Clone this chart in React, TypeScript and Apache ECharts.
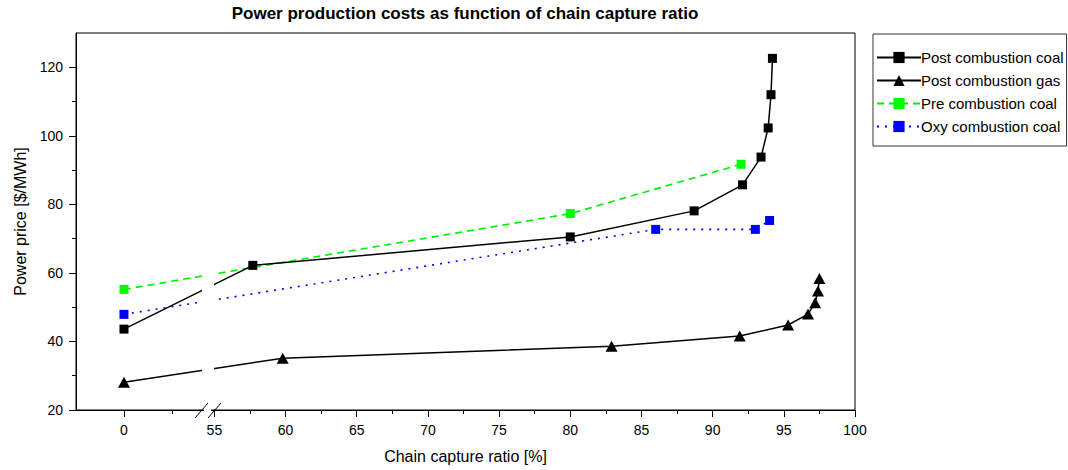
import React, { useEffect, useRef } from "react";
import * as echarts from "echarts";

// Data (x = chain capture ratio [%], y = power price [$/MWh])
const xCoal = [0, 57.7, 80, 88.7, 92.1, 93.4, 93.9, 94.1, 94.2];
const yCoal = [43.6, 62.2, 70.5, 78.1, 85.7, 93.8, 102.3, 112.0, 122.6];
const xGas = [0, 59.8, 82.9, 91.9, 95.3, 96.7, 97.2, 97.4, 97.5];
const yGas = [28.1, 35.1, 38.6, 41.6, 44.8, 48.0, 51.3, 54.7, 58.4];
const xPre = [0, 80, 92];
const yPre = [55.2, 77.3, 91.7];
const xOxy = [0, 86, 93, 94];
const yOxy = [47.9, 72.7, 72.7, 75.3];

const seriesNames = [
  "Post combustion coal",
  "Post combustion gas",
  "Pre combustion coal",
  "Oxy combustion coal",
];

const xTickLabels = [0, 55, 60, 65, 70, 75, 80, 85, 90, 95, 100];
const xMinorTicks = [52.05, 57.5, 62.5, 67.5, 72.5, 77.5, 82.5, 87.5, 92.5, 97.5];
const yTickLabels = [20, 40, 60, 80, 100, 120];
const yMinorTicks = [30, 50, 70, 90, 110];

// Broken axis: values below the break are drawn starting at ZERO_POS
const ZERO_POS = 48.65;
const BREAK_LIMIT = 50;
const mapX = (v: number) => (v < BREAK_LIMIT ? ZERO_POS + v : v);
const unmapX = (v: number) => (v < BREAK_LIMIT ? Math.round(v - ZERO_POS) : Math.round(v));

const pairs = (xs: number[], ys: number[]) => xs.map((x, i) => [mapX(x), ys[i]]);

const FONT = "'Liberation Sans', Arial, sans-serif";

export default function App() {
  const ref = useRef<HTMLDivElement>(null);

  useEffect(() => {
    if (!ref.current) return;
    const chart = echarts.init(ref.current, undefined, { renderer: "svg" });

    const xMin = 45.28;
    const xMax = 100;
    const yMin = 20;
    const yMax = 130;

    const commonXAxis = {
      type: "value" as const,
      min: xMin,
      max: xMax,
      position: "bottom" as const,
      splitLine: { show: false },
    };
    const commonYAxis = {
      type: "value" as const,
      min: yMin,
      max: yMax,
      position: "left" as const,
      splitLine: { show: false },
    };

    chart.setOption({
      animation: false,
      backgroundColor: "#fff",
      textStyle: { fontFamily: FONT },
      title: {
        text: "Power production costs as function of chain capture ratio",
        left: 465,
        top: 5,
        padding: 0,
        textAlign: "center",
        textStyle: { fontFamily: FONT, fontSize: 17, fontWeight: "bold", color: "#000" },
      },
      legend: {
        left: 873,
        top: 34,
        orient: "vertical",
        padding: [16, 3, 12, 3],
        itemGap: 8,
        itemWidth: 44,
        itemHeight: 14,
        borderColor: "#333",
        borderWidth: 1,
        data: seriesNames,
        textStyle: { fontFamily: FONT, fontSize: 15, color: "#000", padding: [0, 0, 0, -5] },
      },
      grid: {
        left: 76,
        top: 33,
        width: 779,
        height: 377,
        show: true,
        borderColor: "#000",
        borderWidth: 1,
        backgroundColor: "transparent",
      },
      xAxis: [
        {
          ...commonXAxis,
          name: "Chain capture ratio [%]",
          nameLocation: "middle",
          nameGap: 38,
          nameTextStyle: { fontFamily: FONT, fontSize: 16, color: "#000" },
          axisLine: { show: true, lineStyle: { color: "#000", width: 1 } },
          axisTick: {
            show: true,
            inside: false,
            length: 7,
            customValues: xTickLabels.map(mapX),
            lineStyle: { color: "#000", width: 1 },
          },
          axisLabel: {
            show: true,
            margin: 13,
            customValues: xTickLabels.map(mapX),
            formatter: (v: number) => String(unmapX(v)),
            fontFamily: FONT,
            fontSize: 14,
            color: "#000",
          },
        },
        {
          ...commonXAxis,
          axisLine: { show: false },
          axisTick: {
            show: true,
            inside: false,
            length: 4,
            customValues: xMinorTicks,
            lineStyle: { color: "#000", width: 1 },
          },
          axisLabel: { show: false },
        },
      ],
      yAxis: [
        {
          ...commonYAxis,
          name: "Power price [$/MWh]",
          nameLocation: "middle",
          nameGap: 48,
          nameTextStyle: { fontFamily: FONT, fontSize: 16, color: "#000" },
          axisLine: { show: true, lineStyle: { color: "#000", width: 1 } },
          axisTick: {
            show: true,
            inside: false,
            length: 7,
            customValues: yTickLabels,
            lineStyle: { color: "#000", width: 1 },
          },
          axisLabel: {
            show: true,
            margin: 13,
            customValues: yTickLabels,
            fontFamily: FONT,
            fontSize: 14,
            color: "#000",
          },
        },
        {
          ...commonYAxis,
          axisLine: { show: false },
          axisTick: {
            show: true,
            inside: false,
            length: 4,
            customValues: yMinorTicks,
            lineStyle: { color: "#000", width: 1 },
          },
          axisLabel: { show: false },
        },
      ],
      series: [
        {
          name: seriesNames[0],
          type: "line",
          data: pairs(xCoal, yCoal),
          symbol: "rect",
          symbolSize: 9,
          itemStyle: { color: "#000" },
          lineStyle: { color: "#000", width: 1.5 },
          z: 3,
        },
        {
          name: seriesNames[1],
          type: "line",
          data: pairs(xGas, yGas),
          symbol: "triangle",
          symbolSize: [12, 11],
          itemStyle: { color: "#000" },
          lineStyle: { color: "#000", width: 1.5 },
          z: 3,
        },
        {
          name: seriesNames[2],
          type: "line",
          data: pairs(xPre, yPre),
          symbol: "rect",
          symbolSize: 9,
          itemStyle: { color: "#00ff00" },
          lineStyle: { color: "#00ee00", width: 1.6, type: [7, 5] },
          z: 2,
        },
        {
          name: seriesNames[3],
          type: "line",
          data: pairs(xOxy, yOxy),
          symbol: "rect",
          symbolSize: 9,
          itemStyle: { color: "#0000ff" },
          lineStyle: { color: "#0000ff", width: 1.6, type: [2, 6] },
          z: 2,
        },
      ],
      graphic: [
        {
          type: "rect",
          z: 100,
          shape: { x: 202, y: 40, width: 12, height: 360 },
          style: { fill: "#fff" },
        },
        {
          type: "rect",
          z: 100,
          shape: { x: 204, y: 408, width: 7, height: 4 },
          style: { fill: "#fff" },
        },
        {
          type: "line",
          z: 101,
          shape: { x1: 195, y1: 418, x2: 208, y2: 403 },
          style: { stroke: "#000", lineWidth: 1 },
        },
        {
          type: "line",
          z: 101,
          shape: { x1: 208, y1: 418, x2: 221, y2: 403 },
          style: { stroke: "#000", lineWidth: 1 },
        },
      ],
    });

    return () => chart.dispose();
  }, []);

  return (
    <div
      ref={ref}
      style={{ position: "fixed", left: 0, top: 0, width: 1068, height: 470, background: "#fff" }}
    />
  );
}
